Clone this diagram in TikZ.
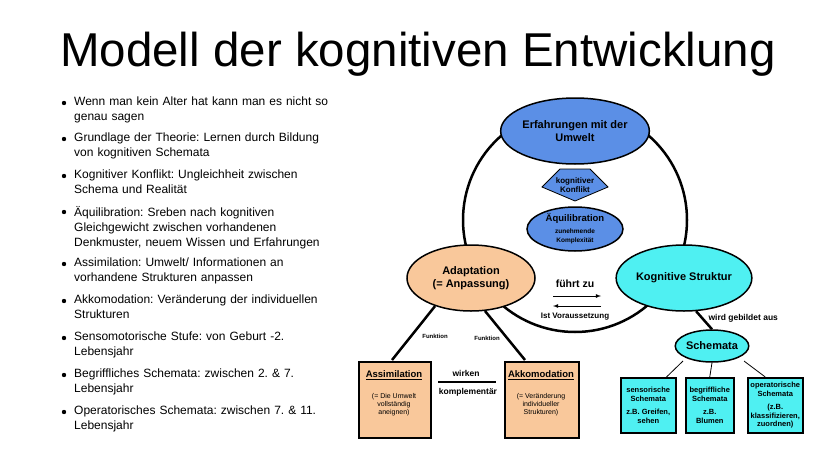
\documentclass[tikz,border=0pt]{standalone}
\usepackage{fontspec}
\setmainfont{Liberation Sans}
\usetikzlibrary{shapes.geometric}
\definecolor{blau}{HTML}{5B8FE6}
\definecolor{orange}{HTML}{F9C89B}
\definecolor{cyan}{HTML}{4FF0F2}
\frenchspacing
\tikzset{
  oval/.style={ellipse,draw,line width=1.5pt,font=\bfseries\fontsize{11}{12.5}\selectfont,align=center,inner sep=0pt},
  kasten/.style={draw,line width=1.5pt,fill=orange,align=center,anchor=north west},
  schema/.style={draw,line width=1.5pt,fill=cyan,align=center,anchor=north west,font=\bfseries\fontsize{7.5}{8.5}\selectfont},
  punkt/.style={anchor=north west,align=left,font=\fontsize{12}{15}\selectfont,text width=270pt,inner sep=0pt},
  klein/.style={font=\bfseries\fontsize{6}{7}\selectfont},
  linie/.style={line width=2.5pt}
}
\begin{document}
\begin{tikzpicture}[x=1pt,y=-1pt]
				\useasboundingbox[fill=white] (0,0) rectangle (828,466);
				\node[anchor=base west,inner sep=0pt,font=\fontsize{47.5}{50}\selectfont] (titel) at (60,66) {Modell der kognitiven Entwicklung};
				% Aufzaehlung links
				\foreach \y/\t in {97/{Wenn man kein Alter hat kann man es nicht so\\genau sagen},
				                   133/{Grundlage der Theorie: Lernen durch Bildung\\von kognitiven Schemata},
				                   170/{Kognitiver Konflikt: Ungleichheit zwischen\\Schema und Realität},
				                   206/{Äquilibration: Sreben nach kognitiven\\Gleichgewicht zwischen vorhandenen\\Denkmuster, neuem Wissen und Erfahrungen},
				                   258/{Assimilation: Umwelt/ Informationen an\\vorhandene Strukturen anpassen},
				                   295/{Akkomodation: Veränderung der individuellen\\Strukturen},
				                   332/{Sensomotorische Stufe: von Geburt -2.\\Lebensjahr},
				                   369/{Begriffliches Schemata: zwischen 2. \& 7.\\Lebensjahr},
				                   406/{Operatorisches Schemata: zwischen 7. \& 11.\\Lebensjahr}}{
				  \fill (64,\y+6) circle (2.2);
				  \node[punkt] at (74,\y) {\t};
				}
				% Kreislauf
				\draw[linie] (575,220) circle (112);
				\node[oval,fill=blau,minimum width=128,minimum height=66] (erfahrung) at (575,131) {Erfahrungen mit der\\Umwelt};
				\draw[thick,fill=blau] (542,187) -- (560,169) -- (590,169) -- (608,187) -- (575,201) -- cycle;
				\node[font=\bfseries\fontsize{8}{9}\selectfont,align=center] (konflikt) at (575,185) {kognitiver\\Konflikt};
				\node[oval,fill=blau,minimum width=96,minimum height=44] (aequi) at (575,229) {{\fontsize{9.5}{10}\selectfont Äquilibration}\\[-1pt]{\fontsize{6.5}{7}\selectfont zunehmende}\\[-3pt]{\fontsize{6.5}{7}\selectfont Komplexität}};
				\node[oval,fill=orange,minimum width=128,minimum height=66] (adapt) at (471,278) {Adaptation\\(= Anpassung)};
				\node[oval,fill=cyan,minimum width=128,minimum height=66] (struktur) at (684,278) {Kognitive Struktur};
				\node[font=\bfseries\fontsize{10.5}{11}\selectfont] (fuehrt) at (575,284) {führt zu};
				\coordinate (f1) at (553,296); \coordinate (f2) at (601,296);
				\coordinate (v1) at (601,306); \coordinate (v2) at (553,306);
				\draw[-latex,thick] (f1) -- (f2);
				\draw[-latex,thick] (v1) -- (v2);
				\node[font=\bfseries\fontsize{8}{9}\selectfont] (vorauss) at (575,317) {Ist Voraussetzung};
				% Assimilation und Akkomodation
				\node[kasten,minimum width=72,minimum height=76] (assi) at (358,361) {};
				\node[kasten,minimum width=74,minimum height=76] (akko) at (504,361) {};
				\node[font=\bfseries\fontsize{9.5}{10}\selectfont] at (394,375) {\underline{Assimilation}};
				\node[font=\fontsize{7}{8}\selectfont,align=center] at (394,405) {(= Die Umwelt\\vollständig\\aneignen)};
				\node[font=\bfseries\fontsize{9.5}{10}\selectfont] at (541,375) {\underline{Akkomodation}};
				\node[font=\fontsize{7}{8}\selectfont,align=center] at (541,405) {(= Veränderung\\individueller\\Strukturen)};
				\coordinate (a1) at (392,360); \coordinate (a2) at (525,360);
				\draw[linie] (adapt.218) -- (a1);
				\draw[linie] (adapt.293) -- (a2);
				\node[klein] at (435,336) {Funktion};
				\node[klein] at (487,338) {Funktion};
				\node[font=\bfseries\fontsize{8.5}{9}\selectfont] (wirken) at (466,373) {wirken};
				\node[font=\bfseries\fontsize{8.5}{9}\selectfont] (kompl) at (468,392) {komplementär};
				\draw[line width=2pt] (438,382) -- (496,382);
				% Schemata
				\node[oval,fill=cyan,minimum width=70,minimum height=32] (schemata) at (712,346) {Schemata};
				\draw[linie] (struktur.290) -- (schemata.north);
				\node[font=\bfseries\fontsize{8.5}{9}\selectfont,anchor=west] at (705,318) {wird gebildet aus};
				\node[schema,minimum width=55,minimum height=55] (sens) at (620,377) {sensorische\\Schemata\\[5pt]z.B. Greifen,\\sehen};
				\node[schema,minimum width=48,minimum height=55] (begr) at (685,377) {begriffliche\\Schemata\\[5pt]z.B.\\Blumen};
				\node[schema,minimum width=55,minimum height=55,inner sep=1pt] (oper) at (747,377) {operatorische\\Schemata\\[5pt](z.B.\\klassifizieren,\\zuordnen)};
				\draw[thick] (683,361) -- ([xshift=-10]sens.north east);
				\draw[thick] (schemata.south) -- (begr.north);
				\draw[thick] (744,361) -- ([xshift=-10]oper.north);
				\end{tikzpicture}
\end{document}
